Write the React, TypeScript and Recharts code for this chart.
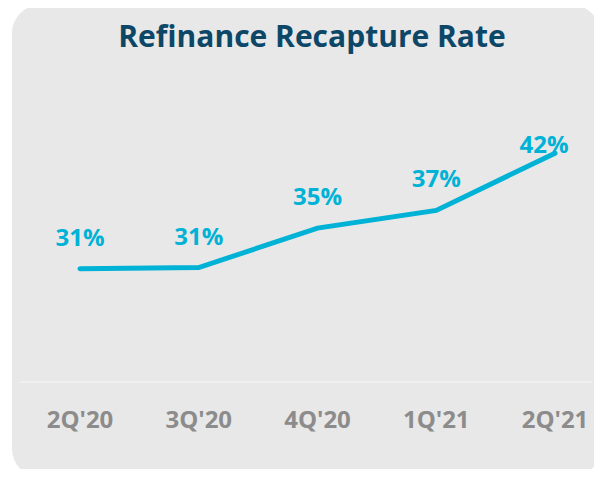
import React from 'react';
import { LineChart, Line, XAxis, YAxis, LabelList } from 'recharts';

// Quarter categories and recapture rate (%)
const quarters = ["2Q'20", "3Q'20", "4Q'20", "1Q'21", "2Q'21"];
const recaptureRate = [30.9, 31.0, 34.8, 36.5, 42.0];

const chartData = quarters.map((q, i) => ({ name: q, rate: recaptureRate[i] }));

const FONT = '"Open Sans", "Noto Sans", sans-serif';
const CYAN = '#00b2d6';

const QuarterTick = (props: any) => {
  const { x, y, payload } = props;
  return (
    <text x={x} y={y + 38} textAnchor="middle" fill="#8c8c8c" fontSize={24} fontWeight={700} fontFamily={FONT}>
      {payload.value}
    </text>
  );
};

const RateLabel = (props: any) => {
  const { x, y, value, index } = props;
  // last point's label sits beside the line end, not above it
  const last = index === quarters.length - 1;
  return (
    <text
      x={last ? x - 11 : x}
      y={last ? y : y - 23}
      textAnchor="middle"
      fill={CYAN}
      fontSize={24}
      fontWeight={700}
      fontFamily={FONT}
    >
      {Math.round(value)}%
    </text>
  );
};

const App: React.FC = () => {
  return (
    <div
      style={{
        position: 'relative',
        width: 602,
        height: 477,
        margin: -8,
        background: '#fff',
        fontFamily: FONT,
        overflow: 'hidden',
      }}
    >
      <div
        style={{
          position: 'absolute',
          left: 12,
          top: 5,
          width: 588,
          height: 472,
          background: '#e8e8e8',
          borderRadius: 28,
        }}
      />
      <div
        style={{
          position: 'absolute',
          left: 24,
          top: 21,
          width: 576,
          textAlign: 'center',
          fontSize: 30,
          lineHeight: '30px',
          fontWeight: 700,
          color: '#0d4768',
        }}
      >
        Refinance Recapture Rate
      </div>
      <div style={{ position: 'absolute', left: 0, top: 0 }}>
        <LineChart width={602} height={477} data={chartData} margin={{ top: 122, right: 10, bottom: 35, left: 20 }}>
          <XAxis
            dataKey="name"
            axisLine={{ stroke: '#f0f0f0', strokeWidth: 2 }}
            tickLine={false}
            tick={<QuarterTick />}
            height={60}
            padding={{ left: 60, right: 37 }}
            interval={0}
          />
          <YAxis hide domain={[20, 45]} />
          <Line
            type="linear"
            dataKey="rate"
            stroke={CYAN}
            strokeWidth={5}
            strokeLinecap="round"
            dot={false}
            isAnimationActive={false}
          >
            <LabelList dataKey="rate" content={<RateLabel />} />
          </Line>
        </LineChart>
      </div>
    </div>
  );
};

export default App;
